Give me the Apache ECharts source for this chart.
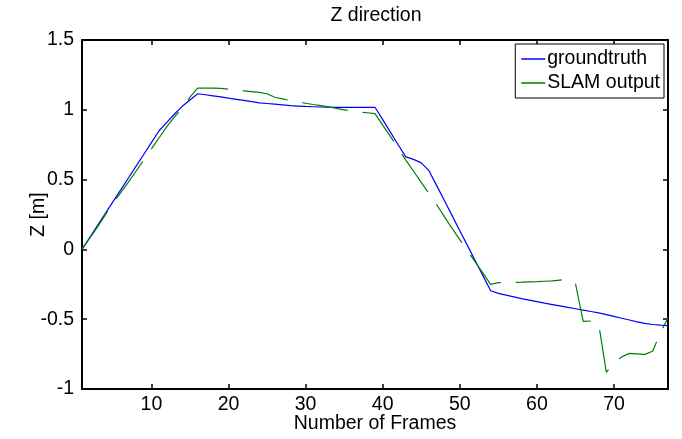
<!DOCTYPE html>
<html>
<head>
<meta charset="utf-8">
<title>Z direction</title>
<script src="https://cdn.jsdelivr.net/npm/echarts@6/dist/echarts.min.js"></script>
<style>
  html, body { margin: 0; padding: 0; background: #fff; }
  #chart { width: 682px; height: 439px; }
</style>
</head>
<body>
<div id="chart"></div>
<script>
// frame numbers 1..77
const frames = [
  1, 2, 3, 4, 5, 6, 7, 8, 9, 10, 11, 12, 13, 14, 15, 16, 17, 18, 19, 20,
  21, 22, 23, 24, 25, 26, 27, 28, 29, 30, 31, 32, 33, 34, 35, 36, 37, 38, 39, 40,
  41, 42, 43, 44, 45, 46, 47, 48, 49, 50, 51, 52, 53, 54, 55, 56, 57, 58, 59, 60,
  61, 62, 63, 64, 65, 66, 67, 68, 69, 70, 71, 72, 73, 74, 75, 76, 77
]

// groundtruth Z [m]
const groundtruth = [
  0, 0.085, 0.17, 0.255, 0.34, 0.425, 0.51, 0.595, 0.68, 0.765,
  0.85, 0.91, 0.97, 1.025, 1.07, 1.115, 1.108, 1.1, 1.092, 1.083,
  1.075, 1.067, 1.058, 1.05, 1.045, 1.04, 1.035, 1.03, 1.027, 1.024,
  1.022, 1.02, 1.019, 1.018, 1.018, 1.018, 1.018, 1.018, 1.018, 0.93,
  0.84, 0.75, 0.663, 0.645, 0.62, 0.564, 0.457, 0.35, 0.242, 0.134,
  0.027, -0.081, -0.188, -0.296, -0.315, -0.328, -0.34, -0.352, -0.363, -0.374,
  -0.385, -0.395, -0.405, -0.415, -0.425, -0.435, -0.445, -0.455, -0.467, -0.48,
  -0.493, -0.506, -0.519, -0.53, -0.538, -0.543, -0.546
]

// SLAM output Z [m]
const slamOutput = [
  0, 0.08, 0.16, 0.245, 0.33, 0.405, 0.48, 0.56, 0.64, 0.72,
  0.8, 0.88, 0.95, 1.01, 1.09, 1.155, 1.155, 1.155, 1.154, 1.148,
  1.14, 1.135, 1.13, 1.125, 1.115, 1.09, 1.078, 1.066, 1.056, 1.047,
  1.038, 1.03, 1.021, 1.01, 1.0, 0.99, 0.984, 0.979, 0.973, 0.89,
  0.81, 0.725, 0.64, 0.56, 0.48, 0.4, 0.32, 0.235, 0.15, 0.07,
  -0.01, -0.09, -0.17, -0.25, -0.238, -0.237, -0.236, -0.235, -0.233, -0.231,
  -0.228, -0.225, -0.22, -0.215, -0.245, -0.515, -0.513, -0.53, -0.88, -0.815,
  -0.77, -0.745, -0.748, -0.752, -0.73, -0.6, -0.49
]

const FONT = 'Liberation Sans, Arial, Helvetica, sans-serif'
const FS = 19.5

const chart = echarts.init(document.getElementById('chart'))

// 盒子边框：上/右两条轴只画线和内刻度
const boxAxis = {
  axisLine: { show: true, onZero: false, lineStyle: { color: '#000', width: 2 } },
  axisTick: { show: true, inside: true, length: 5, lineStyle: { color: '#000', width: 1.5 } },
  axisLabel: { show: false },
  splitLine: { show: false }
}

const options = {
  animation: false,
  backgroundColor: '#fff',
  title: {
    text: 'Z direction',
    left: 371,
    textAlign: 'center',
    top: 1,
    textStyle: { fontFamily: FONT, fontSize: FS, fontWeight: 'normal', color: '#000' }
  },
  legend: {
    orient: 'vertical',
    right: 18,
    top: 44,
    padding: [5, 4, 5, 6],
    itemGap: 4,
    itemWidth: 24,
    itemHeight: 1.5,
    icon: 'rect',
    borderColor: '#000',
    borderWidth: 1,
    backgroundColor: '#fff',
    textStyle: { fontFamily: FONT, fontSize: FS, color: '#000', padding: [0, 0, 0, -3] },
    data: ['groundtruth', 'SLAM output']
  },
  grid: { left: 82, right: 14, top: 40, bottom: 50, containLabel: false, outerBoundsMode: 'none' },
  xAxis: [
    {
      type: 'value',
      min: 1,
      max: 77,
      splitNumber: 8,
      name: 'Number of Frames',
      nameLocation: 'middle',
      nameGap: 25,
      nameMoveOverlap: false,
      nameTextStyle: { fontFamily: FONT, fontSize: FS, color: '#000' },
      axisLine: { show: true, onZero: false, lineStyle: { color: '#000', width: 2 } },
      axisTick: { show: true, inside: true, length: 5, lineStyle: { color: '#000', width: 1.5 } },
      axisLabel: {
        margin: 6,
        fontFamily: FONT,
        fontSize: FS,
        color: '#000',
        showMinLabel: false,
        showMaxLabel: false
      },
      splitLine: { show: false }
    },
    Object.assign({ type: 'value', min: 1, max: 77, splitNumber: 8, position: 'top' }, boxAxis)
  ],
  yAxis: [
    {
      type: 'value',
      min: -1,
      max: 1.5,
      interval: 0.5,
      name: 'Z [m]',
      nameLocation: 'middle',
      nameGap: 33,
      nameMoveOverlap: false,
      nameTextStyle: { fontFamily: FONT, fontSize: FS, color: '#000' },
      axisLine: { show: true, onZero: false, lineStyle: { color: '#000', width: 2 } },
      axisTick: { show: true, inside: true, length: 5, lineStyle: { color: '#000', width: 1.5 } },
      axisLabel: { margin: 8, fontFamily: FONT, fontSize: FS, color: '#000' },
      splitLine: { show: false }
    },
    Object.assign({ type: 'value', min: -1, max: 1.5, interval: 0.5, position: 'right' }, boxAxis)
  ],
  series: [
    {
      name: 'groundtruth',
      type: 'line',
      color: '#0000ff',
      showSymbol: false,
      lineStyle: { width: 1.2, color: '#0000ff' },
      data: frames.map((f, i) => [f, groundtruth[i]])
    },
    {
      name: 'SLAM output',
      type: 'line',
      color: '#008000',
      showSymbol: false,
      lineStyle: { width: 1.2, color: '#008000', type: [46, 15] },
      data: frames.map((f, i) => [f, slamOutput[i]])
    }
  ]
}

chart.setOption(options)
</script>
</body>
</html>
